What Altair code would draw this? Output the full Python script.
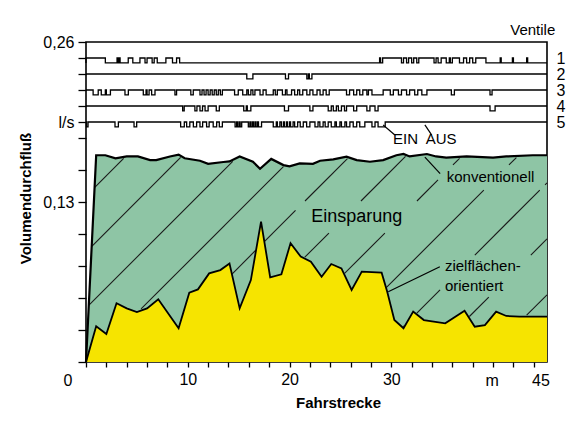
import altair as alt
import numpy as np
import pandas as pd

# ---------------- data ----------------
XMAX = 45.3
YMAX = 0.26
W, H = 461, 320

# conventional flow (upper curve)
conv_m = [0, 1.0, 1.9, 2.9, 4.0, 5.1, 6.3, 6.9, 8.25, 9.1, 9.7, 11.2, 12.0, 13.5, 14.1,
          15.1, 16.4, 17.1, 18.2, 19.4, 20.0, 21.0, 22.3, 23.0, 24.3, 25.6, 26.6, 27.9,
          29.2, 30.5, 31.2, 31.8, 33.5, 34.4, 35.4, 37.4, 40.0, 41.3, 43.9, 45.3]
conv_v = [0, 0.168, 0.168, 0.1655, 0.167, 0.167, 0.164, 0.164, 0.167, 0.1685, 0.1655,
          0.1635, 0.161, 0.1625, 0.163, 0.167, 0.1627, 0.157, 0.165, 0.160, 0.159,
          0.1614, 0.161, 0.1635, 0.1646, 0.1668, 0.164, 0.1627, 0.164, 0.168, 0.169,
          0.167, 0.169, 0.167, 0.166, 0.167, 0.166, 0.167, 0.168, 0.168]

# target-oriented flow (lower curve)
yel_m = [0, 1.0, 2.0, 3.0, 4.0, 5.0, 6.0, 7.1, 9.1, 10.15, 11.0, 12.1, 13.2, 14.1, 15.1,
         16.2, 17.2, 18.1, 19.2, 20.1, 21.1, 22.1, 23.15, 24.1, 25.1, 26.1, 27.1, 29.05,
         29.6, 30.3, 31.2, 32.15, 33.2, 35.3, 37.2, 38.2, 39.2, 40.3, 41.3, 42.6, 45.3]
yel_v = [0, 0.029, 0.0228, 0.0477, 0.0436, 0.0406, 0.0436, 0.051, 0.0274, 0.0563, 0.059,
         0.072, 0.0747, 0.080, 0.0436, 0.0666, 0.114, 0.0688, 0.0712, 0.0966, 0.0856,
         0.0815, 0.0693, 0.0796, 0.0761, 0.0585, 0.0734, 0.0726, 0.0571, 0.0341, 0.0274,
         0.0409, 0.0341, 0.0314, 0.0417, 0.0287, 0.030, 0.0409, 0.0374, 0.0368, 0.0368]

# valve traces (m intervals)
valve_names = ["1", "2", "3", "4", "5"]
valve_level = [0.247, 0.234, 0.221, 0.208, 0.195]
valve1_high = [(0, 1.9), (3.05, 3.15), (3.25, 3.35), (4.15, 4.6), (5.3, 5.8), (6.0, 6.5),
               (6.7, 7.0), (7.85, 8.5), (8.9, 9.2), (28.85, 28.95), (29.15, 31.0),
               (31.2, 31.5), (31.7, 32.0), (32.2, 32.5), (32.7, 34.2), (34.4, 34.6),
               (34.9, 35.4), (35.7, 35.8), (36.0, 36.7), (37.1, 37.4), (37.7, 38.0),
               (38.3, 39.3), (40.7, 40.8), (41.9, 42.0), (43.3, 43.4)]
valve2_low = [(15.8, 16.4), (19.6, 19.9), (21.7, 21.85), (21.95, 22.2)]
valve3_low = [(0.7, 1.2), (1.5, 1.9), (2.0, 2.4), (3.83, 4.16), (5.63, 5.9), (6.0, 6.2),
              (6.45, 6.78), (8.74, 8.9), (10.3, 10.54), (11.2, 11.4), (11.6, 11.8),
              (12.0, 12.2), (12.4, 12.6), (12.8, 13.0), (13.2, 13.4), (14.6, 14.96),
              (15.4, 15.8), (15.95, 16.2), (16.4, 16.6), (17.1, 17.4), (17.7, 18.4),
              (18.6, 18.8), (19.3, 19.6), (19.75, 20.2), (20.5, 20.8), (21.0, 21.3),
              (21.7, 22.0), (22.3, 22.7), (23.0, 23.3), (23.6, 23.9), (25.6, 25.9),
              (26.3, 26.6), (26.9, 27.2), (27.6, 27.75), (28.1, 29.2), (29.9, 30.2),
              (30.7, 31.0), (31.5, 31.8), (32.3, 32.6), (33.0, 33.5), (35.9, 36.2),
              (39.7, 39.9)]
valve4_low = [(9.5, 9.65), (10.7, 10.9), (11.2, 11.45), (11.7, 12.0), (12.8, 13.1),
              (15.5, 15.75), (15.85, 16.2), (19.5, 19.9), (22.0, 22.3), (23.8, 24.1),
              (24.3, 24.6), (24.8, 25.1), (25.4, 25.6), (26.3, 26.6), (27.6, 27.9),
              (28.4, 28.7), (39.7, 40.2)]
valve5_low = [(0.05, 0.2), (2.85, 3.18), (4.72, 4.98), (9.3, 9.66), (9.89, 10.2),
              (10.55, 10.87), (11.2, 11.46), (11.85, 12.1), (12.5, 12.84), (13.1, 13.4),
              (14.65, 14.8), (14.9, 15.05), (15.15, 15.3), (15.95, 16.1), (16.2, 16.35),
              (16.45, 16.6), (16.7, 16.85), (16.95, 17.25), (18.4, 18.7), (18.8, 19.05),
              (19.2, 19.4), (19.5, 19.7), (19.8, 20.0), (20.1, 20.35), (20.5, 20.8),
              (21.05, 21.35), (21.68, 22.0), (22.5, 22.8), (22.98, 23.3), (23.5, 23.8),
              (24.1, 24.46), (24.6, 24.95), (25.1, 25.44), (25.6, 25.93), (26.26, 26.6),
              (26.9, 27.4), (28.1, 28.4), (28.7, 29.4)]
PULSE = 0.004

# annotation texts (m, l/s)
center_texts = ["Einsparung", "konventionell", "EIN", "AUS", "Ventile", "0", "m", "45"]
center_m = [26.6, 39.75, 31.4, 34.9, 43.9, -1.77, 39.9, 44.7]
center_v = [0.1176, 0.150, 0.1808, 0.1808, 0.2697, -0.0154, -0.0154, -0.0154]
center_size = [18, 15, 15, 15, 15, 16, 16, 16]
left_texts = ["zielflächen-", "orientiert"]
left_m = [35.27, 35.27]
left_v = [0.078, 0.0617]

# leader lines
lead_m = [33.3, 29.7, 29.2, 33.3]
lead_v = [0.1665, 0.0571, 0.1926, 0.1926]
lead_m2 = [34.8, 34.77, 30.35, 33.96]
lead_v2 = [0.153, 0.0774, 0.1845, 0.1845]

# hatch gaps around labels (m0, m1, v0, v1)
gap_boxes = [(20.6, 32.6, 0.1048, 0.1308), (34.6, 45.1, 0.1397, 0.160), (34.8, 43.8, 0.0528, 0.0869)]

GREEN = "#8ec5a5"
YELLOW = "#f6e400"
FONT = "Liberation Sans"

# ---------------- derived tables ----------------
conv_df = pd.DataFrame({"m": conv_m, "v": conv_v})
yel_df = pd.DataFrame({"m": yel_m, "v": yel_v})

def trace(name, base, other, intervals):
    rows = [(name, 0.0, base)]
    for s, e in intervals:
        rows.append((name, s, other))
        rows.append((name, e, base))
    rows.append((name, XMAX, base))
    return rows

vrows = []
vrows += trace("1", valve_level[0] - PULSE, valve_level[0], valve1_high)
for name, lvl, ivs in zip(valve_names[1:], valve_level[1:], [valve2_low, valve3_low, valve4_low, valve5_low]):
    vrows += trace(name, lvl, lvl - PULSE, ivs)
valve_df = pd.DataFrame(vrows, columns=["valve", "m", "v"])
valve_df["order"] = range(len(valve_df))

# hatch lines at 45 degrees in screen space, clipped to the savings band
kx, ky = W / XMAX, H / YMAX
slope = kx / ky
ms = np.arange(0, XMAX + 1e-9, 0.01)
ylow = np.interp(ms, yel_m, yel_v)
yhigh = np.interp(ms, conv_m, conv_v)
hrows = []
for k in range(12):
    m0 = -16.3 + 5.5 * k
    v = (ms - m0) * slope
    inside = (v > ylow + 0.0012) & (v < yhigh - 0.0012)
    for a, b, c, d in gap_boxes:
        inside &= ~((ms >= a) & (ms <= b) & (v >= c) & (v <= d))
    idx = np.flatnonzero(inside)
    if len(idx) == 0:
        continue
    splits = np.split(idx, np.where(np.diff(idx) > 1)[0] + 1)
    for run in splits:
        if len(run) < 3:
            continue
        hrows.append((ms[run[0]], v[run[0]], ms[run[-1]], v[run[-1]]))
hatch_df = pd.DataFrame(hrows, columns=["m", "v", "m2", "v2"])

ctext_df = pd.DataFrame({"t": center_texts, "m": center_m, "v": center_v, "s": center_size})
ltext_df = pd.DataFrame({"t": left_texts, "m": left_m, "v": left_v})
lead_df = pd.DataFrame({"m": lead_m, "v": lead_v, "m2": lead_m2, "v2": lead_v2})

# ---------------- chart ----------------
xs = alt.Scale(domain=[0, XMAX], nice=False, zero=False)
ys = alt.Scale(domain=[0, YMAX], nice=False, zero=False)

xaxis = alt.Axis(values=list(range(0, 45, 2)),
                 labelExpr="datum.value==10 ? '10' : datum.value==20 ? '20' : datum.value==30 ? '30' : ''",
                 tickSize=5, tickWidth=1.3, tickColor="black", domain=False, grid=False,
                 labelFont=FONT, labelFontSize=16, labelColor="black", labelPadding=4,
                 labelFlush=False, labelOverlap=False,
                 title="Fahrstrecke", titleFont=FONT, titleFontSize=15, titleFontWeight="bold",
                 titleColor="black", titleX=252, titleY=40, titleAlign="center", titleBaseline="middle")
yticks = [0, 0.026, 0.052, 0.078, 0.104, 0.13, 0.156, 0.182, 0.195, 0.208, 0.221, 0.234, 0.247, 0.26]
yaxis = alt.Axis(values=yticks,
                 labelExpr="abs(datum.value-0.26)<0.001 ? '0,26' : abs(datum.value-0.13)<0.001 ? '0,13' : abs(datum.value-0.195)<0.001 ? 'l/s' : ''",
                 tickSize=8, tickWidth=1.3, tickColor="black", domain=False, grid=False,
                 labelFont=FONT, labelFontSize=16, labelColor="black", labelPadding=4,
                 labelFlush=False, labelOverlap=False,
                 title="Volumendurchfluß", titleFont=FONT, titleFontSize=15, titleFontWeight="bold",
                 titleColor="black", titleX=-61, titleY=156, titleAngle=-90,
                 titleAlign="center", titleBaseline="middle")
raxis = alt.Axis(orient="right", values=valve_level,
                 labelExpr="datum.value>0.24 ? '1' : datum.value>0.23 ? '2' : datum.value>0.215 ? '3' : datum.value>0.2 ? '4' : '5'",
                 ticks=False, domain=False, grid=False, labelFont=FONT, labelFontSize=16,
                 labelColor="black", labelPadding=9, labelOverlap=False, labelFlush=False, title=None)

X = alt.X("m:Q", scale=xs, axis=xaxis)
Y = alt.Y("v:Q", scale=ys, axis=None)

green = alt.Chart(conv_df).mark_area(color=GREEN, opacity=1).encode(
    x=X, y=alt.Y("v:Q", scale=ys, axis=yaxis))
yellow = alt.Chart(yel_df).mark_area(color=YELLOW, opacity=1).encode(x=X, y=Y)
hatch = alt.Chart(hatch_df).mark_rule(color="#1a1a1a", strokeWidth=1.1).encode(
    x=X, y=Y, x2="m2:Q", y2="v2:Q")
conv_line = alt.Chart(conv_df).mark_line(color="black", strokeWidth=2.2).encode(x=X, y=Y)
yel_line = alt.Chart(yel_df).mark_line(color="black", strokeWidth=1.8).encode(x=X, y=Y)
valves = alt.Chart(valve_df).mark_line(color="black", strokeWidth=1.3, interpolate="step-after").encode(
    x=X, y=alt.Y("v:Q", scale=ys, axis=raxis), detail="valve:N", order="order:Q")
leads = alt.Chart(lead_df).mark_rule(color="black", strokeWidth=1.2).encode(
    x=X, y=Y, x2="m2:Q", y2="v2:Q")
ctext = alt.Chart(ctext_df).mark_text(font=FONT, color="black", align="center", baseline="middle").encode(
    x=X, y=Y, text="t:N", size=alt.Size("s:Q", scale=None, legend=None))
ltext = alt.Chart(ltext_df).mark_text(font=FONT, color="black", align="left", baseline="middle", fontSize=15).encode(
    x=X, y=Y, text="t:N")

chart = alt.layer(green, yellow, hatch, conv_line, yel_line, valves, leads, ctext, ltext).resolve_axis(
    y="independent").properties(
    width=W, height=H, autosize=alt.AutoSizeParams(type="none"),
    padding={"left": 78, "top": 34, "right": 22, "bottom": 56},
    background="white").configure_view(stroke="black", strokeWidth=1.6)

chart.save("out.html", embed_options={"renderer": "svg", "actions": False})
